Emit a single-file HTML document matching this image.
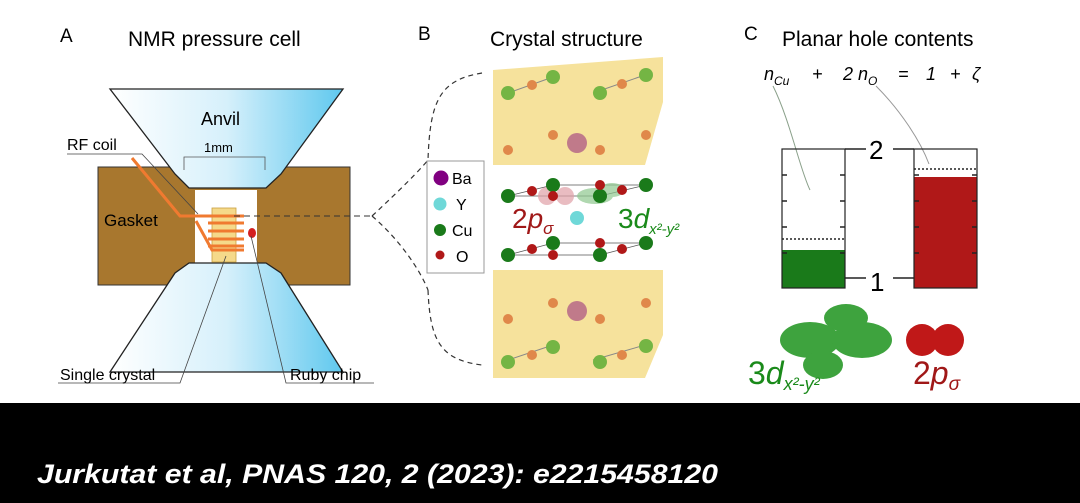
<!DOCTYPE html>
<html><head><meta charset="utf-8"><style>
html,body{margin:0;padding:0;background:#fff;width:1080px;height:503px;overflow:hidden}
svg{display:block}
text{font-family:"Liberation Sans",sans-serif}
</style></head><body>
<svg width="1080" height="503" viewBox="0 0 1080 503" xmlns="http://www.w3.org/2000/svg">
<defs>
<linearGradient id="anv" x1="0" x2="1" y1="0" y2="0">
<stop offset="0" stop-color="#ffffff"/><stop offset="0.5" stop-color="#d6f0fb"/><stop offset="1" stop-color="#5fc8ee"/></linearGradient>
</defs>
<rect width="1080" height="403" fill="#fff"/>
<!-- Panel A -->
<text x="60" y="42" font-size="19">A</text>
<text x="128" y="46" font-size="21">NMR pressure cell</text>
<rect x="98" y="167" width="252" height="118" fill="#a8772e" stroke="#333" stroke-width="1"/>
<rect x="195" y="190" width="62" height="73" fill="#fff"/>
<path d="M110 89 L343 89 L281 174 L266 188 L189 188 L175 174 Z" fill="url(#anv)" stroke="#222" stroke-width="1.3"/>
<path d="M189 263 L266 263 L281 273 L343 372 L110 372 L175 273 Z" fill="url(#anv)" stroke="#222" stroke-width="1.3"/>
<text x="201" y="125" font-size="18">Anvil</text>
<text x="204" y="152" font-size="13">1mm</text>
<path d="M184 170 V157 H265 V170" fill="none" stroke="#555" stroke-width="0.8"/>
<text x="104" y="226" font-size="17">Gasket</text>
<rect x="212" y="208" width="24" height="54" fill="#f5d98a" stroke="#c9a040" stroke-width="0.8"/>
<g stroke="#f07a30" stroke-width="3" fill="none">
<path d="M132 158 L180 216 L208 216"/>
<path d="M196 216 H244 M208 223 H244 M208 231 H244 M208 239 H244 M208 246 H244"/>
<path d="M196 221 L212 250 H244"/>
</g>
<ellipse cx="252" cy="233" rx="4" ry="5" fill="#d42020"/>
<text x="67" y="150" font-size="16">RF coil</text>
<path d="M67 154 H142 L198 214" fill="none" stroke="#444" stroke-width="0.8"/>
<path d="M58 383 H180 L226 256" fill="none" stroke="#444" stroke-width="0.8"/>
<text x="60" y="380" font-size="16">Single crystal</text>
<path d="M374 383 H286 L251 236" fill="none" stroke="#444" stroke-width="0.8"/>
<text x="290" y="380" font-size="16">Ruby chip</text>
<path d="M234 216 H370" stroke="#333" stroke-dasharray="6,4" stroke-width="1"/>
<!-- Panel B -->
<text x="418" y="40" font-size="19">B</text>
<text x="490" y="46" font-size="21">Crystal structure</text>
<path d="M482 73 C440 80 430 100 428 160 M428 290 C430 340 440 360 482 365" fill="none" stroke="#333" stroke-dasharray="5,4" stroke-width="1.2"/>
<path d="M372 216 C400 190 420 170 428 160 M372 216 C400 240 420 270 428 290" fill="none" stroke="#333" stroke-dasharray="5,4" stroke-width="1.2"/>
<path d="M493 70 L663 57 L663 102 L645 165 L493 165 Z" fill="#f6e29c"/>
<path d="M493 270 L663 270 L663 335 L645 378 L493 378 Z" fill="#f6e29c"/>
<g stroke="#888" stroke-width="1"><path d="M508 93 L553 77 M593 93 L645 75 M508 360 L553 345 M593 360 L645 345"/></g>
<g fill="#74b544">
<circle cx="508" cy="93" r="7"/><circle cx="553" cy="77" r="7"/><circle cx="600" cy="93" r="7"/><circle cx="646" cy="75" r="7"/>
<circle cx="508" cy="362" r="7"/><circle cx="553" cy="347" r="7"/><circle cx="600" cy="362" r="7"/><circle cx="646" cy="346" r="7"/></g>
<g fill="#e0884a">
<circle cx="532" cy="85" r="5"/><circle cx="622" cy="84" r="5"/><circle cx="553" cy="135" r="5"/><circle cx="508" cy="150" r="5"/><circle cx="600" cy="150" r="5"/><circle cx="646" cy="135" r="5"/>
<circle cx="532" cy="355" r="5"/><circle cx="622" cy="355" r="5"/><circle cx="553" cy="303" r="5"/><circle cx="508" cy="319" r="5"/><circle cx="600" cy="319" r="5"/><circle cx="646" cy="303" r="5"/></g>
<circle cx="577" cy="143" r="10" fill="#c07a8a"/><circle cx="577" cy="311" r="10" fill="#c07a8a"/>
<g stroke="#555" stroke-width="0.8" fill="none">
<path d="M508 196 L553 185 H646 L600 196 Z M508 255 L553 243 H646 L600 255 Z"/></g>
<g fill="#e0a0a8" opacity="0.7"><circle cx="547" cy="196" r="9"/><circle cx="565" cy="196" r="9"/></g>
<g fill="#90c890" opacity="0.7"><ellipse cx="595" cy="196" rx="18" ry="8"/><ellipse cx="612" cy="190" rx="12" ry="7"/></g>
<g fill="#1a7a1a">
<circle cx="508" cy="196" r="7"/><circle cx="553" cy="185" r="7"/><circle cx="646" cy="185" r="7"/><circle cx="600" cy="196" r="7"/>
<circle cx="508" cy="255" r="7"/><circle cx="553" cy="243" r="7"/><circle cx="646" cy="243" r="7"/><circle cx="600" cy="255" r="7"/></g>
<g fill="#b01818">
<circle cx="532" cy="191" r="5"/><circle cx="553" cy="196" r="5"/><circle cx="600" cy="185" r="5"/><circle cx="622" cy="190" r="5"/>
<circle cx="532" cy="249" r="5"/><circle cx="553" cy="255" r="5"/><circle cx="600" cy="243" r="5"/><circle cx="622" cy="249" r="5"/></g>
<circle cx="577" cy="218" r="7" fill="#6fd8d8"/>
<text x="512" y="228" font-size="28" fill="#a01818">2<tspan font-style="italic">p</tspan><tspan font-size="17" font-style="italic" dy="6">σ</tspan></text>
<text x="618" y="228" font-size="28" fill="#1a8a1a">3<tspan font-style="italic">d</tspan><tspan font-size="15" font-style="italic" dy="6">x²-y²</tspan></text>
<rect x="427" y="161" width="57" height="112" fill="#fff" stroke="#999"/>
<circle cx="441" cy="178" r="7.5" fill="#800080"/><text x="452" y="184" font-size="16">Ba</text>
<circle cx="440" cy="204" r="6.5" fill="#6fd8d8"/><text x="456" y="210" font-size="16">Y</text>
<circle cx="440" cy="230" r="6" fill="#1a7a1a"/><text x="452" y="236" font-size="16">Cu</text>
<circle cx="440" cy="255" r="4.5" fill="#b01818"/><text x="456" y="262" font-size="16">O</text>
<!-- Panel C -->
<text x="744" y="40" font-size="19">C</text>
<text x="782" y="46" font-size="21">Planar hole contents</text>
<g font-size="18" font-style="italic">
<text x="764" y="80">n<tspan font-size="12" dy="5">Cu</tspan></text>
<text x="812" y="80">+</text>
<text x="843" y="80">2 n<tspan font-size="12" dy="5">O</tspan></text>
<text x="898" y="80">=</text>
<text x="926" y="80">1</text>
<text x="950" y="80">+</text>
<text x="972" y="80">ζ</text>
</g>
<path d="M773 86 C790 120 800 170 810 190" stroke="#8aa08a" fill="none" stroke-width="1"/>
<path d="M876 86 C900 110 920 140 929 164" stroke="#999" fill="none" stroke-width="1"/>
<rect x="782" y="250" width="63" height="38" fill="#1a7a1a"/>
<rect x="914" y="177" width="63" height="111" fill="#b01818"/>
<rect x="782" y="149" width="63" height="139" fill="none" stroke="#222" stroke-width="1.2"/>
<rect x="914" y="149" width="63" height="139" fill="none" stroke="#222" stroke-width="1.2"/>
<path d="M782 239 H845 M914 169 H977" stroke="#222" stroke-width="1.5" stroke-dasharray="2,2"/>
<g stroke="#222" stroke-width="1.5">
<path d="M845 149 H866 M845 278 H866 M893 149 H914 M893 278 H914"/>
<path d="M782 175 h5 M782 201 h5 M782 227 h5 M782 253 h5 M840 175 h5 M840 201 h5 M840 227 h5 M840 253 h5"/>
<path d="M914 175 h5 M914 201 h5 M914 227 h5 M914 253 h5 M972 175 h5 M972 201 h5 M972 227 h5 M972 253 h5"/>
</g>
<text x="869" y="159" font-size="26">2</text>
<text x="870" y="291" font-size="26">1</text>
<g fill="#2a9a2a" opacity="0.9">
<ellipse cx="810" cy="340" rx="30" ry="18"/><ellipse cx="862" cy="340" rx="30" ry="18"/>
<ellipse cx="846" cy="318" rx="22" ry="14"/><ellipse cx="823" cy="365" rx="20" ry="14"/></g>
<circle cx="922" cy="340" r="16" fill="#c01818"/><circle cx="948" cy="340" r="16" fill="#c01818"/>
<text x="748" y="384" font-size="32" fill="#1a8a1a">3<tspan font-style="italic">d</tspan><tspan font-size="18" font-style="italic" dy="6">x²-y²</tspan></text>
<text x="913" y="384" font-size="32" fill="#a01818">2<tspan font-style="italic">p</tspan><tspan font-size="19" font-style="italic" dy="6">σ</tspan></text>
<!-- footer -->
<rect x="0" y="403" width="1080" height="100" fill="#000"/>
<text x="37" y="483" font-size="27" font-weight="bold" font-style="italic" fill="#fff" textLength="681" lengthAdjust="spacingAndGlyphs">Jurkutat et al, PNAS 120, 2 (2023): e2215458120</text>
</svg>
</body></html>
